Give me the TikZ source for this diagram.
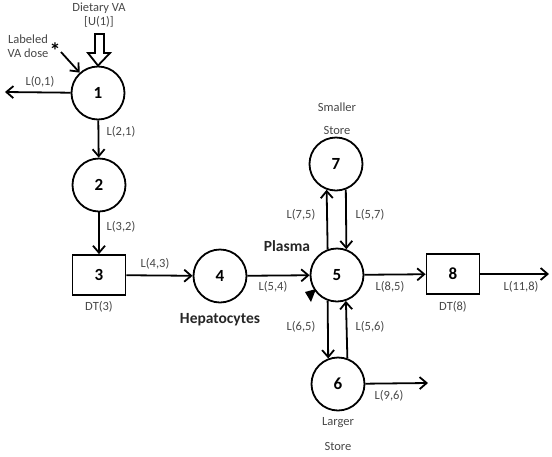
\documentclass[tikz,border=0pt]{standalone}
\usepackage{fontspec}
\setmainfont{Carlito}
\usetikzlibrary{arrows.meta}
\begin{document}
\begin{tikzpicture}[x=1pt,y=-1pt,
  comp/.style={circle,draw,line width=1.8pt,minimum size=53pt,inner sep=0pt,font=\fontsize{17}{17}\selectfont\bfseries},
  boxc/.style={rectangle,draw,line width=1.8pt,minimum width=53pt,minimum height=40pt,inner sep=0pt,font=\fontsize{17}{17}\selectfont\bfseries},
  flow/.style={line width=1.8pt,-{Straight Barb[length=7pt,width=12pt,line width=1.8pt]}},
  lab/.style={font=\fontsize{12.5}{14}\selectfont,text=black!72,inner sep=1pt,align=center},
  bold/.style={font=\fontsize{15.5}{17}\selectfont\bfseries,text=black!85,inner sep=1pt},
]
\useasboundingbox (0,0) rectangle (552,456);
% compartments
\node[comp] (n1) at (98,93) {1};
\node[comp] (n2) at (99,185) {2};
\node[boxc] (n3) at (99,275) {3};
\node[comp] (n4) at (220,276) {4};
\node[comp] (n5) at (337,275) {5};
\node[comp] (n7) at (336,164) {7};
\node[comp] (n6) at (338,384) {6};
\node[boxc] (n8) at (453,274) {8};
% free ends
\coordinate (out1) at (5,92);
\coordinate (out8) at (549,274);
\coordinate (out6) at (428,383);
\coordinate (dose) at (61,52);
% labels
\node[lab] (tdiet) at (99,15) {Dietary VA\\{[U(1)]}};
\node[lab] (tdose) at (28,46) {Labeled\\VA dose};
\node[font=\fontsize{22}{22}\selectfont\bfseries,inner sep=0pt] (star) at (55,51) {*};
\node[lab] (l01) at (40,82) {L(0,1)};
\node[lab] (l21) at (121,132) {L(2,1)};
\node[lab] (l32) at (121,227) {L(3,2)};
\node[lab] (l43) at (155,264) {L(4,3)};
\node[lab] (l54) at (273,287) {L(5,4)};
\node[lab] (dt3) at (99,307) {DT(3)};
\node[bold] (hep) at (220,320) {Hepatocytes};
\node[bold] (pl) at (287,246) {Plasma};
\node[lab] (l75) at (301,215) {L(7,5)};
\node[lab] (l57) at (370,215) {L(5,7)};
\node[lab] (l65) at (301,327) {L(6,5)};
\node[lab] (l56) at (370,327) {L(5,6)};
\node[lab] (l85) at (390,287) {L(8,5)};
\node[lab] (l118) at (521,287) {L(11,8)};
\node[lab] (dt8) at (453,307) {DT(8)};
\node[lab] (l96) at (389,396) {L(9,6)};
\node[lab] (small) at (337,107) {Smaller};
\node[lab] (smst) at (337,130) {Store};
\node[lab] (large) at (338,423) {Larger};
\node[lab] (lgst) at (338,446) {Store};
% dietary input (open arrow)
\draw[line width=1.8pt,line join=miter] (95,34) -- (104,34) -- (104,53) -- (110,53) -- (n1.north) -- (88,53) -- (95,53) -- cycle;
% flows
\draw[flow] (dose) -- (n1.132);
\draw[flow] (n1) -- (out1);
\draw[flow] (n1) -- (n2);
\draw[flow] (n2) -- (n3);
\draw[flow] (n3) -- (n4);
\draw[flow] (n4) -- (n5);
\draw[flow] (n5) -- (n8);
\draw[flow] (n8) -- (out8);
\draw[flow] (n6) -- (out6);
\draw[flow] (n5.110) -- (n7.250);
\draw[flow] (n7.291) -- (n5.70);
\draw[flow] (n5.250) -- (n6.111);
\draw[flow] (n6.70) -- (n5.289);
% sampling marker
\fill (305,292) -- (316,289) -- (311,302) -- cycle;
\end{tikzpicture}
\end{document}
